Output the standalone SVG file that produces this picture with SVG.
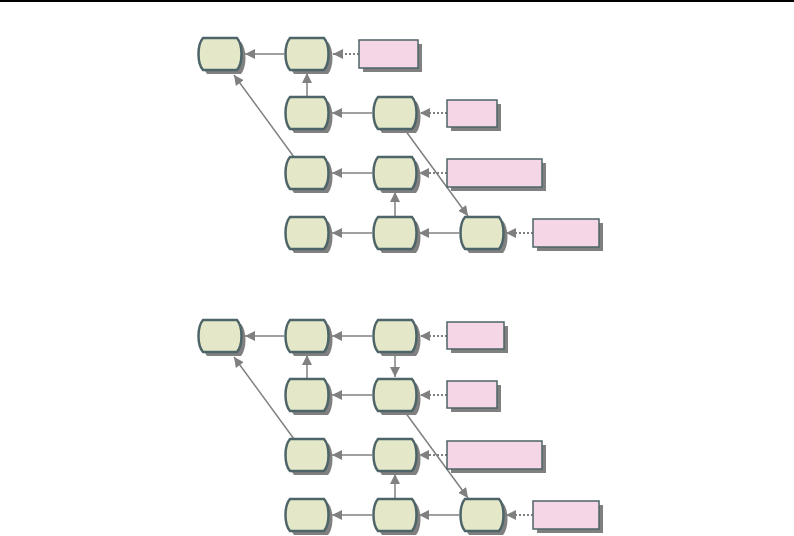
<svg xmlns="http://www.w3.org/2000/svg" xmlns:xlink="http://www.w3.org/1999/xlink" width="794" height="536" viewBox="0 0 794 536">
<style>
.node{fill:#e5e8c8;stroke:#4d6468;stroke-width:2.5}
.sh{fill:#808080;stroke:none}
.box{fill:#f5d6e6;stroke:#4d6468;stroke-width:1.5}
.c{stroke:#808080;stroke-width:1.5;fill:none;marker-end:url(#ah)}
.d{stroke:#808080;stroke-width:2.2;stroke-dasharray:2 2;fill:none;marker-end:url(#ah)}
</style>
<defs>
<marker id="ah" markerUnits="userSpaceOnUse" markerWidth="10" markerHeight="10" refX="10" refY="5" orient="auto" viewBox="0 0 10 10">
<path d="M0,0 L10,5 L0,10 Z" fill="#808080"/>
</marker>
<path id="nd" d="M-17,-16 H17 C23,-9 23,9 17,16 H-17 C-23,9 -23,-9 -17,-16 Z"/>
</defs>
<rect x="0" y="0" width="794" height="2" fill="#000"/>

<g id="connectors">
<line class="c" x1="284" y1="54" x2="245" y2="54"/>
<line class="d" x1="359" y1="54" x2="333" y2="54"/>
<line class="c" x1="307" y1="97" x2="307" y2="73"/>
<line class="c" x1="372" y1="113" x2="332" y2="113"/>
<line class="d" x1="447" y1="113" x2="420" y2="113"/>
<line class="c" x1="294" y1="157" x2="234" y2="75"/>
<line class="c" x1="405" y1="130" x2="468" y2="216"/>
<line class="c" x1="372" y1="173" x2="332" y2="173"/>
<line class="d" x1="447" y1="173" x2="419" y2="173"/>
<line class="c" x1="395" y1="217" x2="395" y2="192"/>
<line class="c" x1="372" y1="233" x2="332" y2="233"/>
<line class="c" x1="459" y1="233" x2="419" y2="233"/>
<line class="d" x1="533" y1="233" x2="506" y2="233"/>

<line class="c" x1="284" y1="336" x2="245" y2="336"/>
<line class="c" x1="372" y1="336" x2="332" y2="336"/>
<line class="d" x1="447" y1="336" x2="420" y2="336"/>
<line class="c" x1="395" y1="353" x2="395" y2="377"/>
<line class="c" x1="307" y1="379" x2="307" y2="355"/>
<line class="c" x1="372" y1="395" x2="332" y2="395"/>
<line class="d" x1="447" y1="395" x2="420" y2="395"/>
<line class="c" x1="294" y1="439" x2="234" y2="357"/>
<line class="c" x1="405" y1="412" x2="468" y2="498"/>
<line class="c" x1="372" y1="455" x2="332" y2="455"/>
<line class="d" x1="447" y1="455" x2="419" y2="455"/>
<line class="c" x1="395" y1="499" x2="395" y2="474"/>
<line class="c" x1="372" y1="515" x2="332" y2="515"/>
<line class="c" x1="459" y1="515" x2="419" y2="515"/>
<line class="d" x1="533" y1="515" x2="506" y2="515"/>
</g>

<g id="t_n1" transform="translate(220,54)"><use href="#nd" class="sh" x="4" y="4"/><use href="#nd" class="node"/></g>
<g id="t_n2" transform="translate(307,54)"><use href="#nd" class="sh" x="4" y="4"/><use href="#nd" class="node"/></g>
<g id="t_n3" transform="translate(307,113)"><use href="#nd" class="sh" x="4" y="4"/><use href="#nd" class="node"/></g>
<g id="t_n4" transform="translate(395,113)"><use href="#nd" class="sh" x="4" y="4"/><use href="#nd" class="node"/></g>
<g id="t_n5" transform="translate(307,173)"><use href="#nd" class="sh" x="4" y="4"/><use href="#nd" class="node"/></g>
<g id="t_n6" transform="translate(395,173)"><use href="#nd" class="sh" x="4" y="4"/><use href="#nd" class="node"/></g>
<g id="t_n7" transform="translate(307,233)"><use href="#nd" class="sh" x="4" y="4"/><use href="#nd" class="node"/></g>
<g id="t_n8" transform="translate(395,233)"><use href="#nd" class="sh" x="4" y="4"/><use href="#nd" class="node"/></g>
<g id="t_n9" transform="translate(482,233)"><use href="#nd" class="sh" x="4" y="4"/><use href="#nd" class="node"/></g>

<g id="t_b1"><rect class="sh" x="363" y="44" width="59" height="28"/><rect class="box" x="359" y="40" width="59" height="28"/></g>
<g id="t_b2"><rect class="sh" x="451" y="104" width="50" height="27"/><rect class="box" x="447" y="100" width="50" height="27"/></g>
<g id="t_b3"><rect class="sh" x="451" y="163" width="95" height="28"/><rect class="box" x="447" y="159" width="95" height="28"/></g>
<g id="t_b4"><rect class="sh" x="537" y="223" width="66" height="28"/><rect class="box" x="533" y="219" width="66" height="28"/></g>

<g id="b_n1" transform="translate(220,336)"><use href="#nd" class="sh" x="4" y="4"/><use href="#nd" class="node"/></g>
<g id="b_n2" transform="translate(307,336)"><use href="#nd" class="sh" x="4" y="4"/><use href="#nd" class="node"/></g>
<g id="b_n3" transform="translate(395,336)"><use href="#nd" class="sh" x="4" y="4"/><use href="#nd" class="node"/></g>
<g id="b_n4" transform="translate(307,395)"><use href="#nd" class="sh" x="4" y="4"/><use href="#nd" class="node"/></g>
<g id="b_n5" transform="translate(395,395)"><use href="#nd" class="sh" x="4" y="4"/><use href="#nd" class="node"/></g>
<g id="b_n6" transform="translate(307,455)"><use href="#nd" class="sh" x="4" y="4"/><use href="#nd" class="node"/></g>
<g id="b_n7" transform="translate(395,455)"><use href="#nd" class="sh" x="4" y="4"/><use href="#nd" class="node"/></g>
<g id="b_n8" transform="translate(307,515)"><use href="#nd" class="sh" x="4" y="4"/><use href="#nd" class="node"/></g>
<g id="b_n9" transform="translate(395,515)"><use href="#nd" class="sh" x="4" y="4"/><use href="#nd" class="node"/></g>
<g id="b_n10" transform="translate(482,515)"><use href="#nd" class="sh" x="4" y="4"/><use href="#nd" class="node"/></g>

<g id="b_b1"><rect class="sh" x="451" y="326" width="57" height="27"/><rect class="box" x="447" y="322" width="57" height="27"/></g>
<g id="b_b2"><rect class="sh" x="451" y="385" width="50" height="27"/><rect class="box" x="447" y="381" width="50" height="27"/></g>
<g id="b_b3"><rect class="sh" x="451" y="445" width="95" height="28"/><rect class="box" x="447" y="441" width="95" height="28"/></g>
<g id="b_b4"><rect class="sh" x="537" y="505" width="66" height="28"/><rect class="box" x="533" y="501" width="66" height="28"/></g>
</svg>
